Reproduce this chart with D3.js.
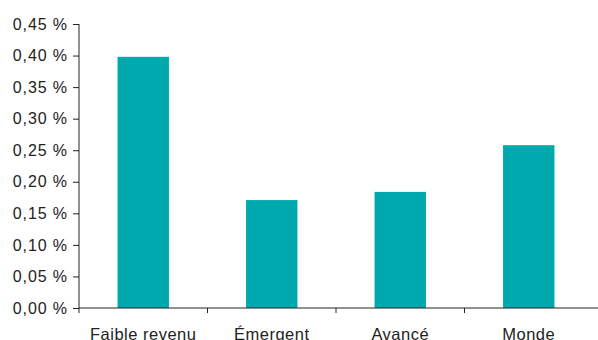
<!DOCTYPE html>
<html><head><meta charset="utf-8">
<script src="https://cdn.jsdelivr.net/npm/d3@7"></script>
<style>body{margin:0;background:#fff}svg{display:block}text{font-family:"Liberation Sans",Arial,sans-serif}</style>
</head><body>
<script>
const categories = ["Faible revenu", "Émergent", "Avancé", "Monde"];
const values = [0.398, 0.171, 0.184, 0.258];
const yTicks = [0, 0.05, 0.10, 0.15, 0.20, 0.25, 0.30, 0.35, 0.40, 0.45];

const W = 598, H = 340;
const svg = d3.select("body").append("svg").attr("width", W).attr("height", H);
const x0 = 79, x1 = 593, yBot = 308, yTop = 24;
const x = d3.scaleBand().domain(categories).range([x0, x1]);
const y = d3.scaleLinear().domain([0, 0.45]).range([yBot, yTop]);
const fmt = v => d3.format(".2f")(v).replace(".", ",") + " %";

const bw = x.bandwidth() * 0.4;
svg.selectAll("rect.bar").data(categories).enter().append("rect")
  .attr("x", d => x(d) + x.bandwidth() / 2 - bw / 2)
  .attr("y", (d, i) => y(values[i]))
  .attr("width", bw)
  .attr("height", (d, i) => y(0) - y(values[i]))
  .attr("fill", "#00a9ad");

// y axis
const ya = svg.append("g").attr("transform", `translate(${x0},0)`)
  .call(d3.axisLeft(y).tickValues(yTicks).tickFormat(fmt).tickSize(6).tickPadding(5));
ya.select(".domain").attr("d", `M0,${yTop}V${yBot}`).attr("stroke", "#222");
ya.selectAll(".tick line").attr("stroke", "#222");
ya.selectAll(".tick text").attr("font-size", 16).attr("letter-spacing", 0.9).attr("fill", "#222")
  .attr("font-family", "'Liberation Sans', Arial, sans-serif");

// x axis
const xa = svg.append("g");
xa.append("line").attr("x1", x0).attr("x2", W).attr("y1", yBot).attr("y2", yBot).attr("stroke", "#222");
xa.selectAll("line.t").data(categories).enter().append("line")
  .attr("x1", d => x(d)).attr("x2", d => x(d)).attr("y1", yBot).attr("y2", yBot + 5).attr("stroke", "#222");
xa.selectAll("text").data(categories).enter().append("text")
  .attr("x", d => x(d) + x.bandwidth() / 2).attr("y", yBot + 32)
  .attr("text-anchor", "middle").attr("font-size", 16.5).attr("letter-spacing", 0.5).attr("fill", "#222").text(d => d);
</script>
</body></html>
